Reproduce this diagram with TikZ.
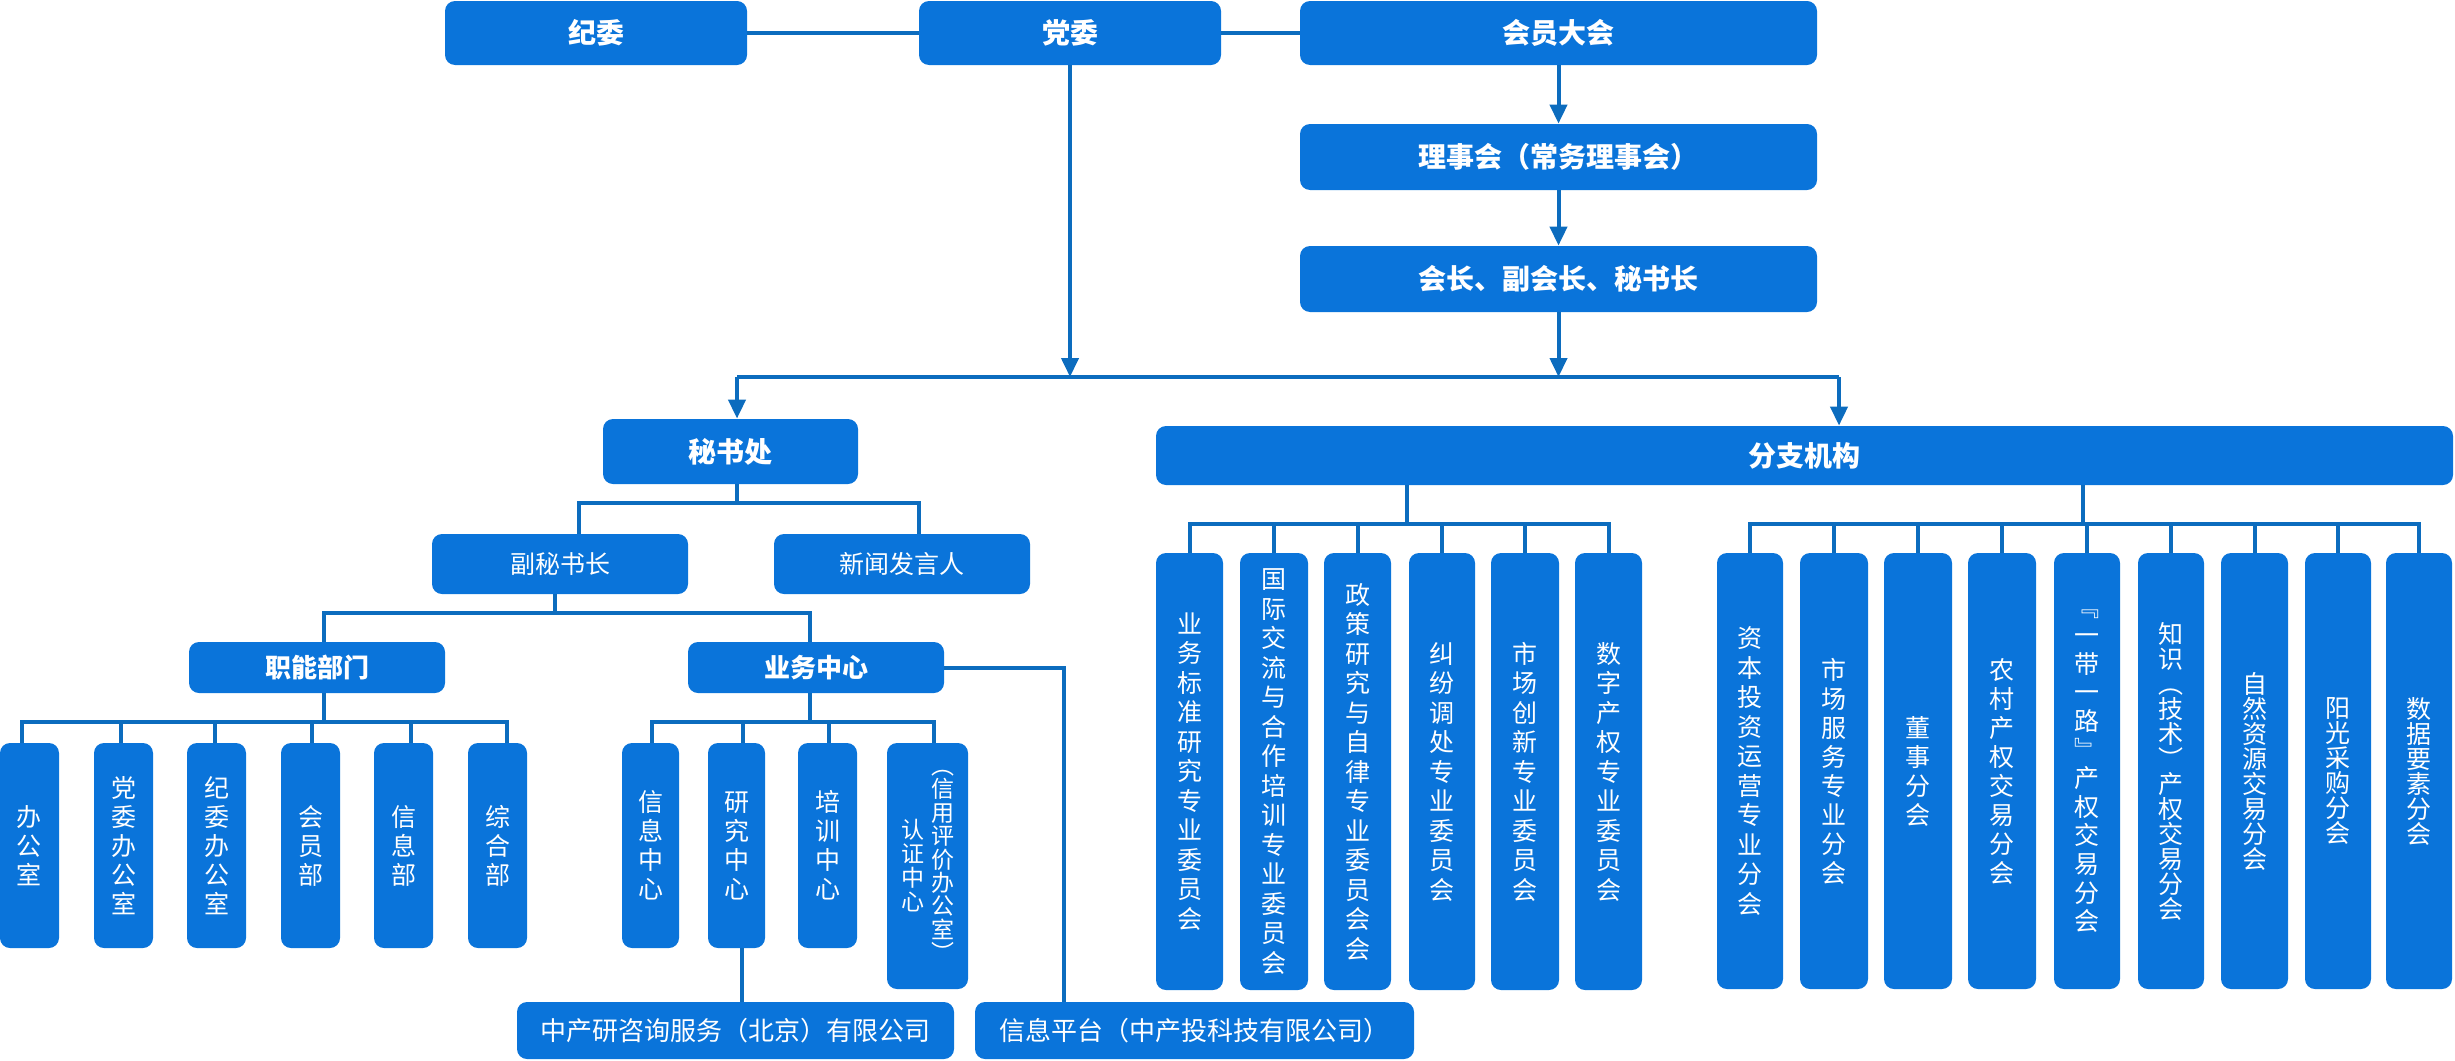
\documentclass[tikz,border=0pt]{standalone}
\usepackage{fontspec}
\newfontfamily\cjk{Noto Sans CJK SC}
\usetikzlibrary{arrows.meta,calc}
\definecolor{boxblue}{RGB}{10,116,218}
\definecolor{lineblue}{RGB}{12,108,190}
\def\myvtend{}
\def\myvtloop#1{\ifx\myvtend#1\else\hbox to 1em{\hss#1\hss}\expandafter\myvtloop\fi}
\newcommand\myvt[2][14.5pt]{\vbox{\baselineskip=#1\relax\lineskiplimit=-50pt\relax\lineskip=0pt\relax\myvtloop#2\myvtend}}
\newcommand\mybox[7]{\node[box,#6,minimum width={(#4-#2)*0.5pt},minimum height={(#5-#3)*0.5pt}] (#1) at ({(#2+#4)/2},{(#3+#5)/2}) {#7};}
\tikzset{
  box/.style={fill=boxblue, rounded corners=5pt, inner sep=0pt, text=white, font=\cjk\fontsize{12.5}{14}\selectfont},
  bb/.style={font=\cjk\bfseries\fontsize{14}{16}\selectfont},
  bbs/.style={font=\cjk\bfseries\fontsize{13}{15}\selectfont},
  big/.style={font=\cjk\fontsize{13}{15}\selectfont},
  small/.style={font=\cjk\fontsize{11.5}{13}\selectfont},
  conn/.style={draw=lineblue, line width=2pt},
  arr/.style={conn, -{Triangle[length=9.5pt,width=8.5pt]}}
}
\begin{document}
\begin{tikzpicture}[x=0.5pt,y=-0.5pt]
\useasboundingbox (0,0) rectangle (2455,1060);
% top
\mybox{jw}{445}{1}{747}{65}{bb}{纪委}
\mybox{dw}{919}{1}{1221}{65}{bb}{党委}
\mybox{hy}{1300}{1}{1817}{65}{bb}{会员大会}
\mybox{lsh}{1300}{124}{1817}{190}{bb}{理事会（常务理事会）}
\mybox{hz}{1300}{246}{1817}{312}{bb}{会长、副会长、秘书长}
% second level
\mybox{msc}{603}{419}{858}{484}{bb}{秘书处}
\mybox{fz}{1156}{426}{2453}{485}{bb}{分支机构}
\mybox{fms}{432}{534}{688}{594}{}{副秘书长}
\mybox{xw}{774}{534}{1030}{594}{}{新闻发言人}
\mybox{zn}{189}{642}{445}{693}{bbs}{职能部门}
\mybox{yw}{688}{642}{944}{693}{bbs}{业务中心}
% functional departments
\mybox{a1}{0}{743}{59}{948}{}{\myvt{办公室}}
\mybox{a2}{94}{743}{153}{948}{}{\myvt{党委办公室}}
\mybox{a3}{187}{743}{246}{948}{}{\myvt{纪委办公室}}
\mybox{a4}{281}{743}{340}{948}{}{\myvt{会员部}}
\mybox{a5}{374}{743}{433}{948}{}{\myvt{信息部}}
\mybox{a6}{468}{743}{527}{948}{}{\myvt{综合部}}
% business centers
\mybox{b1}{622}{743}{679}{948}{}{\myvt{信息中心}}
\mybox{b2}{708}{743}{765}{948}{}{\myvt{研究中心}}
\mybox{b3}{798}{743}{857}{948}{}{\myvt{培训中心}}
\mybox{b4}{887}{743}{968}{989}{small}{\hbox{$\vcenter{\myvt[12pt]{认证中心}}$\hspace{3.5pt}$\vcenter{\myvt[11.7pt]{︵信用评价办公室︶}}$}}
% bottom
\mybox{zcy}{517}{1002}{954}{1059}{big}{中产研咨询服务（北京）有限公司}
\mybox{xxpt}{975}{1002}{1414}{1059}{big}{信息平台（中产投科技有限公司）}
% branch committees
\mybox{c1}{1156}{553}{1223}{990}{}{\myvt[14.75pt]{业务标准研究专业委员会}}
\mybox{c2}{1240}{553}{1308}{990}{}{\myvt[14.75pt]{国际交流与合作培训专业委员会}}
\mybox{c3}{1324}{553}{1391}{990}{}{\myvt[14.75pt]{政策研究与自律专业委员会会}}
\mybox{c4}{1409}{553}{1475}{990}{}{\myvt[14.75pt]{纠纷调处专业委员会}}
\mybox{c5}{1491}{553}{1559}{990}{}{\myvt[14.75pt]{市场创新专业委员会}}
\mybox{c6}{1575}{553}{1642}{990}{}{\myvt[14.75pt]{数字产权专业委员会}}
% branches
\mybox{d1}{1717}{553}{1783}{989}{}{\myvt[14.75pt]{资本投资运营专业分会}}
\mybox{d2}{1800}{553}{1868}{989}{}{\myvt[14.5pt]{市场服务专业分会}}
\mybox{d3}{1884}{553}{1952}{989}{}{\myvt[14.5pt]{董事分会}}
\mybox{d4}{1968}{553}{2036}{989}{}{\myvt[14.5pt]{农村产权交易分会}}
\mybox{d5}{2054}{553}{2120}{989}{}{\myvt[14.3pt]{﹃一带一路﹄产权交易分会}}
\mybox{d6}{2138}{553}{2204}{989}{}{\myvt[12.5pt]{知识︵技术︶产权交易分会}}
\mybox{d7}{2221}{553}{2288}{989}{}{\myvt[12.5pt]{自然资源交易分会}}
\mybox{d8}{2305}{553}{2371}{989}{}{\myvt[12.5pt]{阳光采购分会}}
\mybox{d9}{2386}{553}{2452}{989}{}{\myvt[12.5pt]{数据要素分会}}
% connectors top
\draw[conn] (jw.east) -- (dw.west);
\draw[conn] (dw.east) -- (hy.west);
\draw[arr] (hy.south) -- (lsh.north);
\draw[arr] (lsh.south) -- (hz.north);
\coordinate (busL) at (737,377);
\coordinate (busR) at (1839,377);
\draw[conn] (busL) -- (busR);
\draw[arr] (dw.south) -- (dw.south |- busL);
\draw[arr] (hz.south) -- (hz.south |- busL);
\draw[arr] (busL) -- (msc.north -| busL);
\draw[arr] (busR) -- (fz.north -| busR);
% secretariat tree
\draw[conn] ($(msc.south)+(6.5,0)$) |- ($(fms.north)+(19,-31)$) -- ($(fms.north)+(19,0)$);
\draw[conn] ($(msc.south)+(6.5,0)$) |- ($(xw.north)+(17,-31)$) -- ($(xw.north)+(17,0)$);
\draw[conn] ($(fms.south)+(-5,0)$) |- ($(zn.north)+(7,-29)$) -- ($(zn.north)+(7,0)$);
\draw[conn] ($(fms.south)+(-5,0)$) |- ($(yw.north)+(-6,-29)$) -- ($(yw.north)+(-6,0)$);
\foreach \c/\d in {a1/-7.5,a2/-3,a3/-1.5,a4/1,a5/7.5,a6/9}
  \draw[conn] ($(zn.south)+(7,0)$) |- ($(\c.north)+(\d,-21)$) -- ($(\c.north)+(\d,0)$);
\foreach \c/\d in {b1/1.5,b2/6.5,b3/1.5,b4/6.5}
  \draw[conn] ($(yw.south)+(-6,0)$) |- ($(\c.north)+(\d,-21)$) -- ($(\c.north)+(\d,0)$);
\draw[conn] ($(b2.south)+(5.5,0)$) coordinate (rs) -- (rs |- zcy.north);
\draw[conn] (yw.east) -| ($(xxpt.north)+(-130.5,0)$);
% branch trees
\foreach \c in {c1,c2,c3,c4,c5,c6}
  \draw[conn] ($(fz.south)+(-397.5,0)$) |- ($(\c.north)+(0,-29)$) -- (\c.north);
\foreach \c in {d1,d2,d3,d4,d5,d6,d7,d8,d9}
  \draw[conn] ($(fz.south)+(278.5,0)$) |- ($(\c.north)+(0,-29)$) -- (\c.north);
\end{tikzpicture}
\end{document}
